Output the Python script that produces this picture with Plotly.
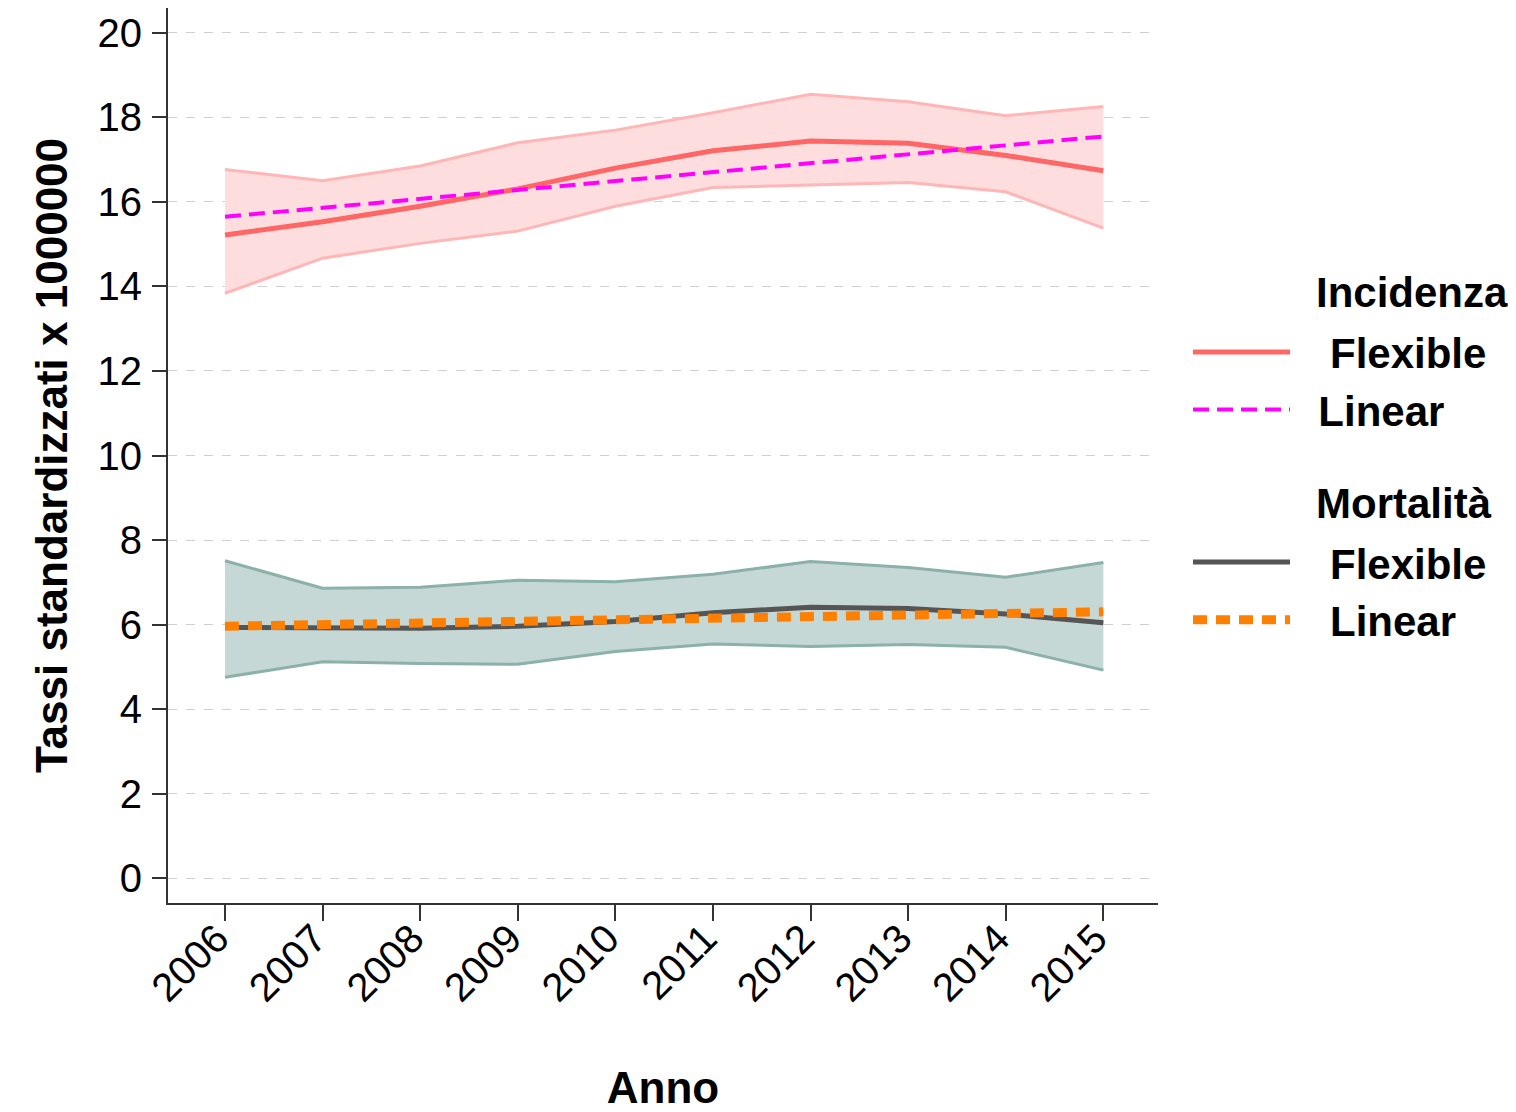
import plotly.graph_objects as go

years = [2006, 2007, 2008, 2009, 2010, 2011, 2012, 2013, 2014, 2015]

inc_flex = [15.22, 15.53, 15.90, 16.31, 16.80, 17.21, 17.44, 17.39, 17.10, 16.74]
inc_lin = [15.65, 15.86, 16.07, 16.28, 16.50, 16.71, 16.92, 17.13, 17.34, 17.55]
inc_hi = [16.77, 16.50, 16.85, 17.40, 17.70, 18.11, 18.55, 18.37, 18.04, 18.26]
inc_lo = [13.84, 14.67, 15.02, 15.31, 15.90, 16.34, 16.40, 16.46, 16.24, 15.38]

mor_flex = [5.93, 5.91, 5.91, 5.96, 6.07, 6.28, 6.41, 6.38, 6.25, 6.04]
mor_lin = [5.96, 6.00, 6.04, 6.07, 6.11, 6.15, 6.19, 6.22, 6.26, 6.30]
mor_hi = [7.51, 6.86, 6.88, 7.05, 7.01, 7.19, 7.49, 7.35, 7.12, 7.47]
mor_lo = [4.75, 5.12, 5.08, 5.06, 5.36, 5.54, 5.48, 5.53, 5.46, 4.92]

y_ticks = [0, 2, 4, 6, 8, 10, 12, 14, 16, 18, 20]
group_titles = ["Incidenza", "Mortalità"]

FONT = "Liberation Sans, Arial, sans-serif"
NB = "\u00a0"
LEG_SIZE = 42

fig = go.Figure()

# Incidenza band
fig.add_trace(go.Scatter(x=years, y=inc_hi, mode="lines",
                         line=dict(color="rgba(255,182,182,1)", width=3),
                         showlegend=False, hoverinfo="skip"))
fig.add_trace(go.Scatter(x=years, y=inc_lo, mode="lines", fill="tonexty",
                         fillcolor="rgba(253,221,222,1)",
                         line=dict(color="rgba(255,182,182,1)", width=3),
                         showlegend=False, hoverinfo="skip"))
# Mortalita band
fig.add_trace(go.Scatter(x=years, y=mor_hi, mode="lines",
                         line=dict(color="rgba(140,176,170,1)", width=3),
                         showlegend=False, hoverinfo="skip"))
fig.add_trace(go.Scatter(x=years, y=mor_lo, mode="lines", fill="tonexty",
                         fillcolor="rgba(197,216,214,1)",
                         line=dict(color="rgba(140,176,170,1)", width=3),
                         showlegend=False, hoverinfo="skip"))

fig.add_trace(go.Scatter(x=years, y=inc_flex, mode="lines", name=NB * 3 + "Flexible",
                         line=dict(color="#FF6666", width=5), legendgroup="inc"))
fig.add_trace(go.Scatter(x=years, y=inc_lin, mode="lines", name=NB * 2 + "Linear",
                         line=dict(color="#FF00FF", width=4, dash="16px,8px"),
                         legendgroup="inc"))
fig.add_trace(go.Scatter(x=years, y=mor_flex, mode="lines", name=NB * 3 + "Flexible",
                         line=dict(color="#555555", width=5), legendgroup="mor"))
fig.add_trace(go.Scatter(x=years, y=mor_lin, mode="lines", name=NB * 3 + "Linear",
                         line=dict(color="#FF7F00", width=9, dash="14px,9px"),
                         legendgroup="mor"))

# Legend group titles
for txt, ypos in zip(group_titles, [0.6816, 0.4469]):
    fig.add_annotation(text="<b>" + txt + "</b>", xref="paper", yref="paper",
                       x=1.1576, y=ypos, xanchor="left", yanchor="middle",
                       showarrow=False,
                       font=dict(family=FONT, size=LEG_SIZE, color="black"))

# The page body has an 8px margin, so the figure is drawn 8px smaller.
fig.update_layout(
    width=1508, height=1104,
    paper_bgcolor="white", plot_bgcolor="white",
    margin=dict(l=160, r=358, t=0, b=209),
    font=dict(family=FONT, color="black"),
    legend=dict(x=1.0303, xanchor="left", y=0.6535, yanchor="top",
                traceorder="grouped",
                font=dict(family=FONT, size=LEG_SIZE, color="black", weight="bold"),
                itemwidth=97, tracegroupgap=95,
                bgcolor="rgba(0,0,0,0)"),
    xaxis=dict(range=[2005.416, 2015.56], tickvals=years,
               ticktext=[str(y) for y in years], tickangle=-45,
               showgrid=False, zeroline=False, automargin=False,
               showline=True, linecolor="#333333", linewidth=2,
               ticks="outside", ticklen=16, tickwidth=2, tickcolor="#333333",
               ticklabelstandoff=-22, ticklabelshift=-8,
               tickfont=dict(family=FONT, size=40, color="black"),
               title=dict(text="<b>Anno</b>", standoff=65,
                          font=dict(family=FONT, size=44, color="black"))),
    yaxis=dict(range=[-0.59, 20.59], tickvals=y_ticks,
               showgrid=True, gridcolor="#D0D0D0", gridwidth=1, griddash="dash",
               zeroline=False, automargin=False,
               showline=True, linecolor="#333333", linewidth=2,
               ticks="outside", ticklen=14, tickwidth=2, tickcolor="#333333",
               ticklabelstandoff=2,
               tickfont=dict(family=FONT, size=40, color="black"),
               title=dict(text="<b>Tassi standardizzati x 1000000</b>", standoff=16,
                          font=dict(family=FONT, size=44, color="black"))),
)

fig.write_html("out.html")
